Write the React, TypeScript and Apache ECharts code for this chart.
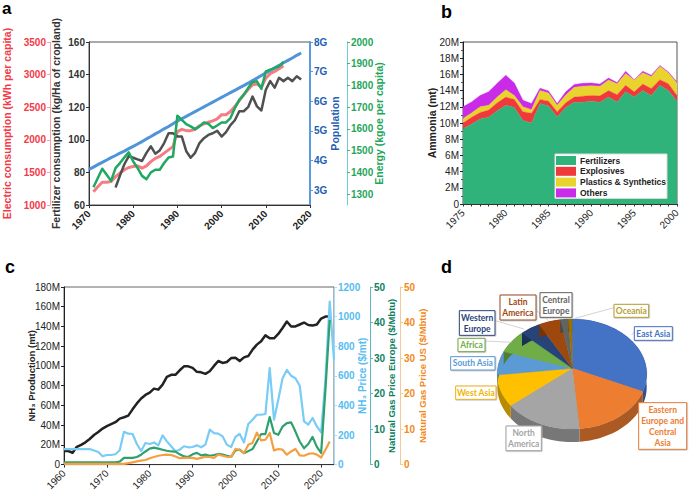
import React, { useEffect, useRef } from "react";
import * as echarts from "echarts";

const FONT = "'Liberation Sans', Arial, sans-serif";

const electricValues = [1205,1280,1350,1350,1360,1435,1490,1540,1575,1590,1600,1565,1600,1665,1715,1745,1795,1845,1895,2125,2160,2140,2140,2160,2215,2245,2270,2290,2320,2385,2385,2435,2510,2600,2690,2770,2845,2855,2810,2945,3015,3050,3090,3135];
const fertilizerValues = [70.7,78,85,90,89,88,87,92,96,91.5,93.5,98,104,104,102,102,93,89,92,98,101,103,104,105.5,102,104.7,109,112,117.5,117.5,120,126.5,120.5,118,130.7,136,132,138,136,138,136,139,137];
const populationValues = [3.7,3.78,3.86,3.94,4.02,4.1,4.17,4.25,4.32,4.4,4.48,4.56,4.64,4.73,4.81,4.9,4.98,5.07,5.15,5.24,5.33,5.41,5.49,5.57,5.65,5.73,5.81,5.89,5.97,6.05,6.13,6.21,6.29,6.37,6.45,6.53,6.61,6.7,6.78,6.87,6.96,7.04,7.13,7.21,7.3,7.38,7.46,7.55,7.63];
const energyValues = [1332,1374,1417,1389,1361,1420,1443,1469,1492,1450,1420,1384,1369,1400,1412,1412,1443,1469,1473,1661,1642,1622,1612,1599,1612,1630,1624,1604,1616,1630,1630,1650,1696,1734,1757,1788,1816,1819,1784,1865,1873,1880,1888,1908];

const ammoniaYears = ["1975","1976","1977","1978","1979","1980","1981","1982","1983","1984","1985","1986","1987","1988","1989","1990","1991","1992","1993","1994","1995","1996","1997","1998","1999","2000"];
const fertilizersMt = [9.3,9.85,10.5,10.7,11.5,12.2,11.9,10.3,10,12.4,12.1,10.75,11.9,12.55,12.55,12.7,12.55,13.2,12.6,13.85,13.2,14,13.4,14.65,14,12.7];
const explosivesMt = [0.7,0.85,0.8,0.9,1,1,1,1.1,1.2,0.5,0.6,0.65,0.6,0.65,0.75,0.7,0.8,0.8,0.9,0.8,0.65,0.8,0.85,0.7,0.85,0.7];
const plasticsMt = [0.55,0.55,0.7,0.6,0.7,0.9,0.5,0.6,0.45,1.1,1,0.8,0.95,1.2,1.25,1.2,1.2,1.3,1.35,1.45,1.45,1.4,1.5,1.65,1.35,1.55];
const othersMt = [1.45,1.35,1.4,1.65,1.7,1.8,1.55,0.8,0.75,0.3,0.25,0.2,0.4,0.35,0.35,0.35,0.25,0.25,0.15,0.3,0.05,0.2,0.15,0.1,0.1,0.1];

const productionValues = [13.8,13.8,12,18,20,22.6,26,30,33,36.5,39,41,43,46.6,48,49.6,56,62,67,70.6,73,77,76,81,89,91,91,95.6,99.6,99.6,98,94,93.5,92,94.6,100,105,103,104,108,108.4,105,108.7,110,116.5,121.6,125,131,128,128,132.4,138.5,145,140,140,142,144,141.5,141,142,148,150,150];
const priceValues = [105,105,105,105,105,105,105,95,85,56,65,65,70,97,222,209,207,139,92,146,139,150,130,198,157,124,90,101,124,117,119,130,117,135,236,213,209,191,135,119,187,207,150,274,303,337,337,342,652,303,438,584,640,600,584,533,292,270,315,258,218,573,1101,708];
const europeValues = [0.65,0.65,0.65,0.65,0.65,0.65,0.65,0.65,0.65,0.65,0.65,0.65,0.65,0.85,1.9,1.9,1.9,2.15,2.8,3.7,4.5,4.8,4.5,4.2,3.9,3.7,3.65,2.9,2.3,2.15,2.9,3.3,2.6,2.8,2.5,2.7,3,2.8,2.5,2.2,4,4.2,3.2,3.8,4.4,6.5,8.6,8.6,13.4,8.9,8.4,10.7,11.7,11.9,9.3,6.5,4.6,5.8,7.8,5,3.3,21,40.7];
const usValues = [0.2,0.2,0.2,0.2,0.2,0.2,0.2,0.2,0.2,0.2,0.2,0.2,0.2,0.2,0.2,0.4,0.65,0.9,1.1,1.3,1.8,2.15,2.5,2.7,2.8,2.7,2.3,1.8,1.9,1.9,1.9,1.6,1.9,2.2,2.15,1.9,2.8,2.5,2.2,2.15,4.4,4.1,3.3,5.6,6.1,9,6.8,7,8.9,4,4.4,4.2,2.8,3.7,4.4,2.6,2.5,3,3.2,2.8,2,4.2,6.5];

const regionNames = ["East Asia","Eastern Europe and Central Asia","North America","West Asia","South Asia","Africa","Western Europe","Latin America","Central Europe","Oceania"];
const regionShares = [30.2,18.3,16.9,9.5,6.9,6.7,4.4,4.8,1.7,0.8];
const regionColors = ["#4472c4","#ed7d31","#a5a5a5","#ffc000","#5b9bd5","#70ad47","#264478","#9e480e","#636363","#997300"];

const zip = (start: number, vals: number[]) => vals.map((v, i) => [start + i, v]);

// layout of the pie (in px)
const PIE = { cx: 572, cy: 374, ax: 572.3, ay: 368.3, rx: 74.7, ry: 55, depth: 13 };
const shade = (hex: string, k: number) => {
  const n = parseInt(hex.slice(1), 16);
  const c = [(n >> 16) & 255, (n >> 8) & 255, n & 255].map((v) => Math.round(v * k));
  return `rgb(${c[0]},${c[1]},${c[2]})`;
};
const onEllipse = (t: number, dy = 0) => [PIE.cx + PIE.rx * Math.sin(t), PIE.cy - PIE.ry * Math.cos(t) + dy];

const renderSlice = (params: any) => {
  const i = params.dataIndex;
  const total = regionShares.reduce((a, b) => a + b, 0);
  const before = regionShares.slice(0, i).reduce((a, b) => a + b, 0);
  const t0 = (before / total) * Math.PI * 2;
  const t1 = ((before + regionShares[i]) / total) * Math.PI * 2;
  const steps = Math.max(3, Math.ceil((t1 - t0) / 0.04));
  const arc: number[][] = [];
  for (let s = 0; s <= steps; s++) arc.push(onEllipse(t0 + ((t1 - t0) * s) / steps));
  const bottomArc: number[][] = [];
  for (let s = steps; s >= 0; s--) bottomArc.push(onEllipse(t0 + ((t1 - t0) * s) / steps, PIE.depth));
  return {
    type: "group",
    children: [
      { type: "polygon", shape: { points: [...arc, ...bottomArc] }, style: { fill: shade(regionColors[i], 0.72) } },
      { type: "polygon", shape: { points: [[PIE.ax, PIE.ay], ...arc] }, style: { fill: regionColors[i], stroke: shade(regionColors[i], 0.9), lineWidth: 0.4 } },
    ],
  };
};

const zx = (x: number) => 420 + x / 3;
const zy = (y: number) => 260 + y / 3;
const regionBoxes: [string, string, number, number, number, number][] = [
  ["Oceania", "#b8a030", 582, 133, 686, 172],
  ["East Asia", "#4472c4", 643, 200, 757, 241],
  ["Eastern\nEurope and\nCentral\nAsia", "#ed7d31", 656, 428, 800, 568],
  ["North\nAmerica", "#a5a5a5", 258, 498, 364, 572],
  ["West Asia", "#f0b400", 107, 378, 228, 418],
  ["South Asia", "#5b9bd5", 92, 290, 225, 330],
  ["Africa", "#70ad47", 114, 235, 195, 275],
  ["Western\nEurope", "#264478", 118, 152, 225, 226],
  ["Latin\nAmerica", "#9e480e", 240, 105, 348, 180],
  ["Central\nEurope", "#636363", 360, 98, 456, 172],
];
const leaderLines = [
  [582, 143, 465, 175],
  [643, 215, 635, 225],
  [348, 150, 385, 182],
  [225, 182, 312, 207],
  [195, 243, 275, 247],
];

const panelLetters: [string, number, number, number][] = [["a", 2, 0, 17], ["b", 441, 3, 18], ["c", 5, 258, 18], ["d", 441, 258, 18]];

const vAxis = (o: any) => {
  const color = o.color;
  return {
    type: "value",
    gridIndex: o.grid,
    position: o.position,
    offset: o.offset || 0,
    min: o.min,
    max: o.max,
    interval: o.interval,
    name: o.name,
    nameLocation: "middle",
    nameGap: o.nameGap,
    nameRotate: 90,
    nameMoveOverlap: false,
    nameTextStyle: { color: o.nameColor || color, fontFamily: FONT, fontSize: o.nameSize || 10.5, fontWeight: "bold" },
    axisLine: { show: true, onZero: false, lineStyle: { color: o.lineColor || color, width: o.lineWidth || 1 } },
    axisTick: { show: true, length: 3, lineStyle: { color: o.tickColor || o.lineColor || color }, ...(o.custom ? { customValues: o.custom } : {}) },
    minorTick: o.minor ? { show: true, splitNumber: o.minor, length: 2, lineStyle: { color: "#555" } } : { show: false },
    axisLabel: {
      color, fontFamily: FONT, fontSize: o.size || 10, fontWeight: o.weight || "bold", margin: 4,
      showMinLabel: true, showMaxLabel: true,
      formatter: o.fmt || ((v: number) => String(v)),
      ...(o.custom ? { customValues: o.custom } : {}),
    },
    splitLine: { show: false },
  };
};

const hAxis = (grid: number, min: number, max: number, interval: number, weight: string, showMax: boolean) => ({
  type: "value",
  gridIndex: grid,
  min, max, interval,
  axisLine: { show: true, onZero: false, lineStyle: { color: "#333" } },
  axisTick: { show: true, length: 3, lineStyle: { color: "#333" } },
  axisLabel: { color: "#222", fontFamily: FONT, fontSize: 10, fontWeight: weight, rotate: 45, margin: 7, formatter: (v: number) => String(v), showMinLabel: true, showMaxLabel: showMax },
  splitLine: { show: false },
});

const categoryAxis = (grid: number) => ({
  type: "category",
  gridIndex: grid,
  boundaryGap: false,
  data: ammoniaYears,
  axisLine: { show: true, onZero: false, lineStyle: { color: "#333" } },
  axisTick: { show: true, length: 2.5, interval: 0, lineStyle: { color: "#333" } },
  axisLabel: { color: "#222", fontFamily: FONT, fontSize: 10, rotate: 45, margin: 7, interval: 4 },
  splitLine: { show: false },
});

const line = (name: string, x: number, y: number, data: number[][], color: string, width: number) => ({
  type: "line", name, xAxisIndex: x, yAxisIndex: y, data, showSymbol: false, symbol: "none",
  lineStyle: { color, width, join: "round" }, itemStyle: { color }, clip: false,
});

const area = (name: string, data: number[], color: string) => ({
  type: "line", name, xAxisIndex: 1, yAxisIndex: 4, stack: "ammonia", showSymbol: false, symbol: "none",
  data, lineStyle: { width: 0.4, color }, itemStyle: { color }, areaStyle: { color, opacity: 1 },
});

function buildOption() {
  const graphics: any[] = [];
  leaderLines.forEach((l) => graphics.push({ type: "line", z: 5, shape: { x1: zx(l[0]), y1: zy(l[1]), x2: zx(l[2]), y2: zy(l[3]) }, style: { stroke: "#c8c8c8", lineWidth: 0.8 } }));
  regionBoxes.forEach(([text, color, x1, y1, x2, y2]) => {
    graphics.push({ type: "rect", z: 6, shape: { x: zx(x1), y: zy(y1), width: (x2 - x1) / 3, height: (y2 - y1) / 3 }, style: { fill: "#fff", stroke: color, lineWidth: 1, shadowBlur: 1, shadowColor: "#aaa", shadowOffsetX: 0.5, shadowOffsetY: 0.5 } });
    graphics.push({ type: "text", z: 7, x: zx((x1 + x2) / 2), y: zy((y1 + y2) / 2), style: { text, fill: color, font: `bold 8.5px Lato`, align: "center", verticalAlign: "middle", lineHeight: 11 } });
  });
  panelLetters.forEach(([text, x, y, size]) => graphics.push({ type: "text", x, y, style: { text, fill: "#000", font: `bold ${size}px ${FONT}`, verticalAlign: "top" } }));

  return {
    animation: false,
    backgroundColor: "#fff",
    textStyle: { fontFamily: FONT },
    grid: [
      { left: 83, top: 42, width: 227, height: 163, show: true, borderColor: "#555", borderWidth: 1, backgroundColor: "transparent" },
      { left: 463, top: 42, width: 214, height: 162, show: true, borderColor: "#555", borderWidth: 1, backgroundColor: "transparent" },
      { left: 64, top: 287, width: 270, height: 178, show: true, borderColor: "#666", borderWidth: 1, backgroundColor: "transparent" },
    ],
    xAxis: [
      hAxis(0, 1970, 2020, 10, "bold", true),
      categoryAxis(1),
      hAxis(2, 1960, 2023, 10, "normal", false),
    ],
    yAxis: [
      vAxis({ grid: 0, position: "left", offset: 39, min: 1000, max: 3500, interval: 500, color: "#f23a48", lineColor: "#f7a0a6", name: "Electric consumption (kWh per capita)", nameGap: 38 }),
      vAxis({ grid: 0, position: "left", min: 60, max: 160, interval: 20, color: "#333", name: "Fertilizer consumption (kg/Ha of cropland)", nameGap: 28 }),
      vAxis({ grid: 0, position: "right", min: 2.5, max: 8, custom: [3, 4, 5, 6, 7, 8], color: "#1f5fb4", lineColor: "#5a9be0", lineWidth: 2, name: "Population", nameGap: 19, fmt: (v: number) => `${v}G` }),
      vAxis({ grid: 0, position: "right", offset: 37, min: 1250, max: 2000, custom: [1300, 1400, 1500, 1600, 1700, 1800, 1900, 2000], color: "#1fa65a", lineColor: "#6fcfdc", tickColor: "#3cb878", name: "Energy (kgoe per capita)", nameGap: 26 }),
      vAxis({ grid: 1, position: "left", min: 0, max: 20, interval: 2, minor: 2, color: "#222", name: "Ammonia (mt)", nameGap: 26, weight: "normal", fmt: (v: number) => (v === 0 ? "0" : `${v}M`) }),
      vAxis({ grid: 2, position: "left", min: 0, max: 180, interval: 20, color: "#222", name: "NH₃ Production (mt)", nameGap: 28, nameSize: 9.5, weight: "normal", fmt: (v: number) => (v === 0 ? "0" : `${v}M`) }),
      vAxis({ grid: 2, position: "right", min: 0, max: 1200, interval: 200, color: "#55bdf0", lineColor: "#a8dcf5", name: "NH₃ Price ($/mt)", nameGap: 23, nameSize: 10 }),
      vAxis({ grid: 2, position: "right", offset: 36, min: 0, max: 50, interval: 10, color: "#0d8060", lineColor: "#5fb8c8", name: "Natural Gas Price Europe ($/Mbtu)", nameGap: 16, nameSize: 9.5 }),
      vAxis({ grid: 2, position: "right", offset: 66, min: 0, max: 50, interval: 10, color: "#f28a20", lineColor: "#f5c898", name: "Natural Gas Price US ($/Mbtu)", nameGap: 17, nameSize: 9.5 }),
    ],
    legend: {
      show: true, orient: "vertical", left: 555, top: 154, width: 115, height: 43, padding: [2, 1, 1, 1], itemGap: 1.8, itemWidth: 20, itemHeight: 9,
      backgroundColor: "#fff", borderColor: "#ddd", borderWidth: 1, icon: "rect",
      textStyle: { fontFamily: FONT, fontSize: 8.5, fontWeight: "bold", color: "#222", padding: [0, 0, 0, -1] },
      data: ["Fertilizers", "Explosives", "Plastics & Synthetics", "Others"],
    },
    series: [
      line("Electric consumption", 0, 0, zip(1971, electricValues), "#f47c84", 3),
      line("Fertilizer consumption", 0, 1, zip(1976, fertilizerValues), "#505050", 2.5),
      line("Population", 0, 2, zip(1970, populationValues), "#4f94d8", 3),
      line("Energy", 0, 3, zip(1971, energyValues), "#1ea860", 2.5),
      area("Fertilizers", fertilizersMt, "#2fb37a"),
      area("Explosives", explosivesMt, "#f0393a"),
      area("Plastics & Synthetics", plasticsMt, "#e8d42c"),
      area("Others", othersMt, "#c92be8"),
      line("NH3 Production", 2, 5, zip(1960, productionValues), "#222", 2.5),
      line("NH3 Price", 2, 6, zip(1960, priceValues), "#78ccf5", 2.2),
      line("Natural Gas Price Europe", 2, 7, zip(1960, europeValues), "#2ea06e", 2.2),
      line("Natural Gas Price US", 2, 8, zip(1960, usValues), "#f5a040", 2.2),
      {
        type: "custom", name: "Regions", coordinateSystem: "none", silent: true,
        data: regionShares.map((v, i) => ({ name: regionNames[i], value: v })),
        renderItem: renderSlice,
      },
    ],
    graphic: graphics,
  };
}

export default function App() {
  const ref = useRef<HTMLDivElement>(null);
  useEffect(() => {
    document.body.style.margin = "0";
    const chart = echarts.init(ref.current!, null, { renderer: "svg" });
    chart.setOption(buildOption() as any);
    return () => chart.dispose();
  }, []);
  return <div ref={ref} style={{ width: 690, height: 493 }} />;
}
